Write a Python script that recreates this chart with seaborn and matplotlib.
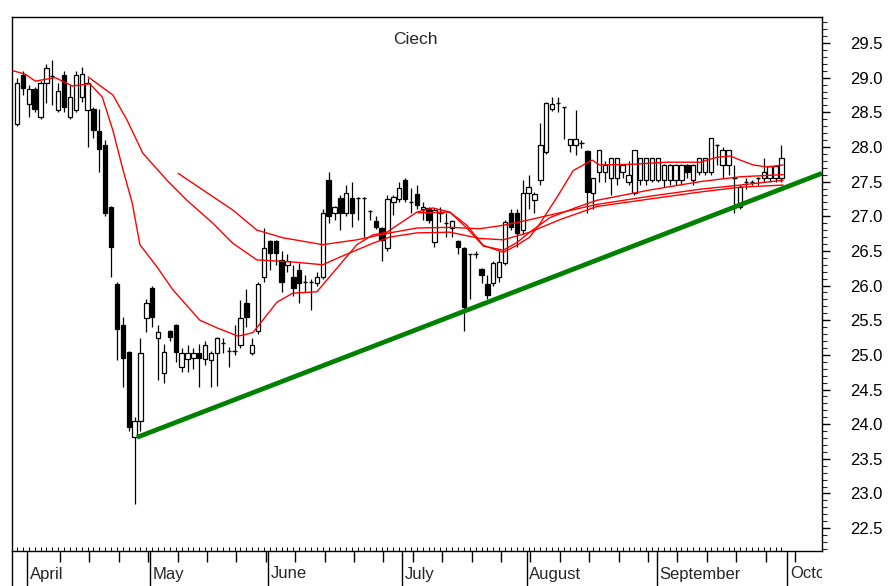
import numpy as np
import pandas as pd
import matplotlib
matplotlib.use("Agg")
import matplotlib.pyplot as plt
from matplotlib.lines import Line2D
from matplotlib.ticker import MultipleLocator, FormatStrFormatter
from matplotlib.transforms import Bbox, TransformedBbox
import seaborn as sns

# daily sessions, late March .. end of September
opens = [28.33, 29.04, 28.62, 28.84, 28.43, 28.92, 29.00, 28.53, 29.04, 28.43,
         28.53, 28.72, 28.53, 28.55, 28.23, 28.03, 27.13, 26.02, 25.43, 25.04,
         23.82, 24.05, 25.53, 25.96, 25.24, 24.74, 25.34, 25.43, 24.82, 24.94,
         24.95, 25.03, 24.94, 24.93, 25.03, 25.17, 25.06, 25.06, 25.14, 25.75,
         25.03, 25.34, 26.12, 26.64, 26.64, 26.37, 26.30, 26.12, 26.22, 26.05,
         26.05, 26.04, 26.12, 27.53, 27.05, 27.27, 27.05, 27.27, 27.27, 27.27,
         27.08, 26.93, 26.83, 26.54, 27.20, 27.25, 27.52, 27.20, 27.32, 27.10,
         27.12, 26.63, 27.05, 26.90, 26.83, 26.64, 26.54, 26.45, 26.45, 26.24,
         26.02, 26.04, 26.12, 26.33, 27.05, 27.05, 26.80, 27.34, 27.23, 27.52,
         27.93, 28.55, 28.63, 28.57, 28.03, 28.03, 28.05, 27.94, 27.34, 27.64,
         27.64, 27.55, 27.55, 27.64, 27.50, 27.34, 27.52, 27.52, 27.52, 27.52,
         27.52, 27.52, 27.52, 27.52, 27.74, 27.52, 27.64, 27.64, 27.64, 28.03,
         27.74, 27.74, 27.55, 27.13, 27.50, 27.50, 27.55, 27.55, 27.55, 27.55,
         27.55]
highs = [29.00, 29.10, 28.90, 28.86, 28.95, 29.20, 29.25, 28.92, 29.10, 28.90,
         29.10, 29.15, 29.00, 28.58, 28.55, 28.10, 27.15, 26.05, 25.55, 25.05,
         24.10, 25.25, 25.80, 26.00, 25.43, 25.15, 25.36, 25.45, 25.10, 25.14,
         25.10, 25.15, 25.20, 25.05, 25.26, 25.24, 25.12, 25.43, 25.79, 25.95,
         25.25, 26.05, 26.83, 26.66, 26.66, 26.50, 26.45, 26.30, 26.33, 26.15,
         26.10, 26.20, 27.10, 27.64, 27.15, 27.30, 27.45, 27.50, 27.28, 27.28,
         27.09, 27.00, 26.85, 27.30, 27.30, 27.50, 27.55, 27.41, 27.45, 27.20,
         27.13, 27.12, 27.13, 27.05, 26.95, 26.66, 26.56, 26.46, 26.50, 26.25,
         26.15, 26.35, 26.50, 26.95, 27.10, 27.10, 27.52, 27.60, 27.35, 28.35,
         28.65, 28.72, 28.72, 28.58, 28.10, 28.53, 28.10, 27.96, 27.55, 27.96,
         27.80, 27.84, 27.84, 27.75, 27.80, 27.96, 27.84, 27.84, 27.84, 27.84,
         27.75, 27.75, 27.75, 27.75, 27.76, 27.75, 27.84, 27.84, 28.13, 28.04,
         28.00, 27.96, 27.74, 27.45, 27.55, 27.52, 27.57, 27.84, 27.72, 27.72,
         28.03]
lows = [28.30, 28.75, 28.43, 28.50, 28.40, 28.63, 28.60, 28.50, 28.50, 28.40,
        28.50, 28.65, 28.00, 28.13, 27.64, 27.00, 26.12, 24.93, 24.54, 23.90,
        22.85, 23.90, 25.33, 25.40, 24.64, 24.60, 25.20, 24.90, 24.75, 24.75,
        24.80, 24.54, 24.85, 24.54, 24.55, 25.03, 24.82, 25.00, 25.10, 25.40,
        25.00, 25.30, 26.05, 26.22, 26.30, 25.90, 26.20, 25.85, 25.75, 25.90,
        25.65, 26.00, 26.10, 26.90, 26.95, 26.80, 27.00, 26.85, 26.95, 26.70,
        26.95, 26.82, 26.35, 26.50, 27.02, 27.20, 27.20, 27.05, 27.10, 26.95,
        26.90, 26.55, 26.92, 26.70, 26.70, 26.45, 25.35, 25.80, 26.40, 26.04,
        25.80, 26.00, 26.05, 26.30, 26.80, 26.55, 26.75, 27.10, 27.05, 27.45,
        27.90, 28.52, 28.50, 28.12, 27.93, 27.88, 27.98, 27.05, 27.10, 27.50,
        27.50, 27.30, 27.45, 27.55, 27.45, 27.30, 27.45, 27.45, 27.50, 27.50,
        27.42, 27.45, 27.45, 27.45, 27.55, 27.45, 27.60, 27.60, 27.60, 27.74,
        27.55, 27.60, 27.05, 27.10, 27.40, 27.45, 27.45, 27.50, 27.50, 27.50,
        27.50]
closes = [28.92, 28.85, 28.84, 28.55, 28.92, 29.14, 29.02, 28.81, 28.58, 28.72,
          29.04, 29.05, 28.92, 28.24, 27.97, 27.05, 26.56, 25.37, 24.95, 23.96,
          24.05, 25.03, 25.75, 25.55, 25.33, 25.04, 25.26, 25.04, 25.03, 25.03,
          25.03, 24.95, 25.14, 25.03, 25.24, 25.17, 25.06, 25.06, 25.53, 25.55,
          25.14, 26.02, 26.54, 26.47, 26.47, 26.05, 26.35, 25.96, 26.04, 26.05,
          26.05, 26.12, 27.05, 27.00, 27.13, 27.05, 27.34, 27.05, 27.27, 27.27,
          27.08, 26.84, 26.66, 27.25, 27.28, 27.41, 27.25, 27.20, 27.16, 27.13,
          26.95, 27.09, 27.05, 26.90, 26.93, 26.56, 25.69, 26.45, 26.45, 26.15,
          25.86, 26.33, 26.34, 26.92, 26.85, 26.76, 27.34, 27.42, 27.32, 28.03,
          28.63, 28.62, 28.63, 28.57, 28.11, 28.11, 28.05, 27.35, 27.55, 27.96,
          27.74, 27.84, 27.84, 27.74, 27.60, 27.96, 27.84, 27.84, 27.84, 27.84,
          27.74, 27.74, 27.74, 27.74, 27.64, 27.74, 27.84, 27.84, 28.13, 28.03,
          27.96, 27.96, 27.55, 27.42, 27.50, 27.50, 27.55, 27.64, 27.72, 27.72,
          27.84]

# moving averages (session index, price)
ma1_idx = [-0.7, 1.4, 3.1, 6.5, 9.4, 12.4, 14.5, 16.3, 17.9, 19.6, 20.9, 23.8,
           26.5, 31.1, 34.0, 37.6, 40.1, 41.8, 44.2, 46.9, 51.0, 54.9, 57.8,
           60.5, 62.9, 68.0, 70.7, 73.6, 76.5, 79.3, 82.7, 85.0, 87.2, 90.6,
           94.9, 98.6, 107.7, 116.2, 123.0, 130.3]
ma1_val = [29.10, 29.05, 28.95, 29.00, 28.88, 28.91, 28.72, 28.24, 27.71, 27.19,
           26.59, 26.27, 25.94, 25.50, 25.39, 25.27, 25.32, 25.50, 25.76, 25.89,
           25.91, 26.30, 26.59, 26.73, 26.77, 27.06, 27.12, 27.06, 26.83, 26.57,
           26.51, 26.62, 26.77, 26.98, 27.12, 27.23, 27.38, 27.50, 27.57, 27.60]
ma2_idx = [12.1, 16.3, 18.7, 21.4, 25.5, 28.9, 33.3, 36.7, 40.8, 46.9, 52.0,
           54.9, 60.5, 63.4, 68.0, 73.6, 78.7, 82.7, 87.2, 92.3, 98.6, 107.7,
           116.2, 123.0, 130.3]
ma2_val = [29.01, 28.75, 28.39, 27.91, 27.52, 27.23, 26.90, 26.61, 26.37, 26.34,
           26.30, 26.41, 26.61, 26.70, 26.76, 26.77, 26.68, 26.66, 26.77, 26.95,
           27.14, 27.25, 27.35, 27.42, 27.45]
ma3_idx = [27.4, 32.3, 36.7, 40.8, 45.2, 52.0, 57.8, 63.4, 68.0, 73.6, 78.7,
           82.7, 87.2, 92.3, 98.6, 107.7, 116.2, 123.0, 130.3]
ma3_val = [27.62, 27.34, 27.09, 26.80, 26.69, 26.59, 26.66, 26.76, 26.83, 26.84,
           26.82, 26.87, 26.95, 27.05, 27.17, 27.29, 27.39, 27.45, 27.52]
ma4_idx = [68.2, 73.6, 76.5, 79.3, 82.7, 85.0, 87.2, 88.9, 91.8, 94.6, 97.8,
           99.1, 104.8, 110.5, 116.2, 119.0, 121.3, 123.0, 125.2, 127.6, 130.3]
ma4_val = [27.05, 27.06, 26.87, 26.58, 26.48, 26.58, 26.70, 26.89, 27.27, 27.66,
           27.81, 27.74, 27.75, 27.78, 27.78, 27.85, 27.87, 27.81, 27.74, 27.71,
           27.74]

# support line drawn on the chart
trend_idx = [20.4, 136.9]
trend_price = [23.81, 27.62]

month_names = ["April", "May", "June", "July", "August", "September", "October"]
month_starts = [1.7, 22.6, 42.7, 65.5, 86.7, 108.8, 131.0]

W, H = 889, 586
L, R, T, B = 12, 822, 17, 551

sns.set_style("white")
plt.rcParams["font.family"] = ["Liberation Sans", "DejaVu Sans"]

fig = plt.figure(figsize=(W / 100, H / 100), dpi=100)
ax = fig.add_axes([L / W, 1 - B / H, (R - L) / W, (B - T) / H])

df = pd.DataFrame({"open": opens, "high": highs, "low": lows, "close": closes})
df["idx"] = np.arange(len(df))
body_w = 0.74

# wicks
ax.vlines(df["idx"], df["low"], df["high"], color="black", lw=0.9, zorder=2)

# bodies
doji = (df["close"] - df["open"]).abs() < 0.02
bodies = df[~doji]
ax.bar(bodies["idx"], (bodies["close"] - bodies["open"]).abs(),
       bottom=bodies[["open", "close"]].min(axis=1), width=body_w,
       color=np.where(bodies["close"] >= bodies["open"], "white", "black"),
       edgecolor="black", lw=0.9, zorder=3)
dj = df[doji]
ax.hlines(dj["close"], dj["idx"] - body_w / 2, dj["idx"] + body_w / 2,
          color="black", lw=1.0, zorder=3)

# moving averages
for xs, ys in [(ma1_idx, ma1_val), (ma2_idx, ma2_val), (ma3_idx, ma3_val), (ma4_idx, ma4_val)]:
    sns.lineplot(x=xs, y=ys, ax=ax, color="red", lw=1.0, zorder=4, sort=False)

sns.lineplot(x=trend_idx, y=trend_price, ax=ax, color="#008000", lw=3.4,
             zorder=5, solid_capstyle="butt")

ax.set_xlim(-0.85, 136.9)
ax.set_ylim(22.17, 29.875)

# right price axis
ax.yaxis.tick_right()
ax.yaxis.set_major_locator(MultipleLocator(0.5))
ax.yaxis.set_minor_locator(MultipleLocator(0.1))
ax.yaxis.set_major_formatter(FormatStrFormatter("%.1f"))
ax.tick_params(axis="y", which="both", left=False, right=True)
ax.tick_params(axis="y", which="major", direction="out", length=6, width=1,
               labelsize=12, pad=14, colors="black")
ax.tick_params(axis="y", which="minor", direction="out", length=3.5, width=0.8)
for lab in ax.get_yticklabels():
    lab.set_horizontalalignment("left")

# time axis: month lines, weekly and daily ticks
ax.set_xticks(month_starts)
ax.set_xticklabels([])
ax.set_xticks(np.arange(month_starts[0] + 5.6, 136, 5.0), minor=True)
ax.tick_params(axis="x", which="both", bottom=True, top=False, colors="black")
ax.tick_params(axis="x", which="major", direction="out", length=25.5, width=1)
ax.tick_params(axis="x", which="minor", direction="out", length=8, width=1)
ax.vlines(df["idx"], 0, 4 / (B - T), transform=ax.get_xaxis_transform(),
          color="black", lw=0.7, clip_on=False)

clip = TransformedBbox(Bbox.from_extents(0, 0, R / W, 1), fig.transFigure)
for pos, name in zip(month_starts, month_names):
    t = ax.text(pos + 0.45, -23 / (B - T), name, transform=ax.get_xaxis_transform(),
                ha="left", va="center", fontsize=12, clip_on=True)
    t.set_clip_box(clip)

for side in ["left", "right", "top", "bottom"]:
    ax.spines[side].set_color("black")
    ax.spines[side].set_linewidth(1)

fig.add_artist(Line2D([L / W, L / W], [0, 1 - B / H], color="black", lw=1))
fig.text(415 / W, 1 - 40 / H, "Ciech", ha="center", va="center", fontsize=12.5)

fig.savefig("out.png", dpi=100)
